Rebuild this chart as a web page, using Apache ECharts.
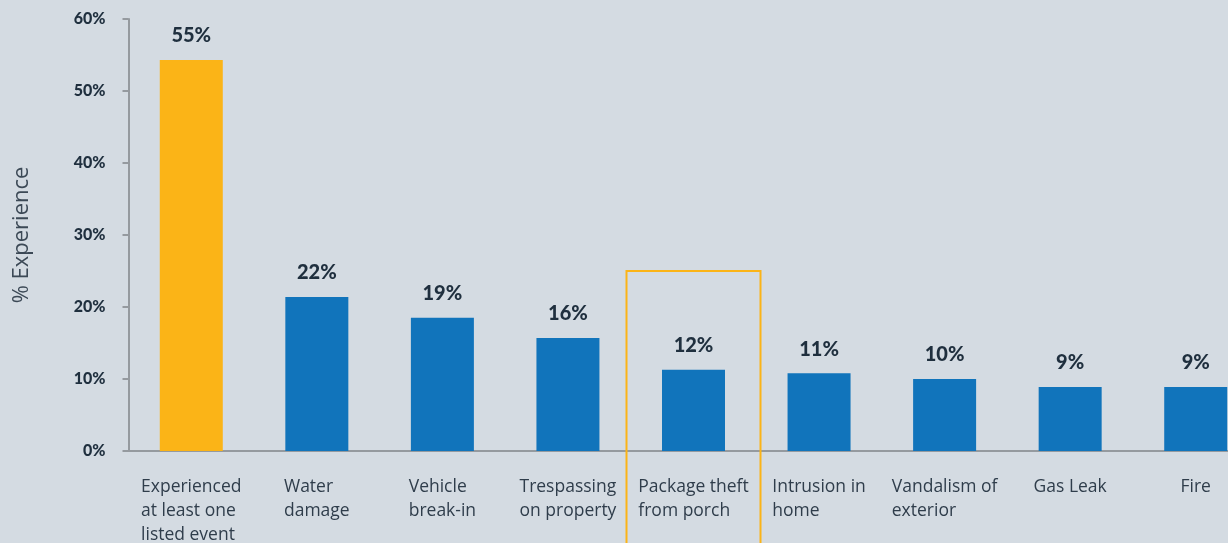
<!DOCTYPE html>
<html>
<head>
<meta charset="utf-8">
<script src="https://cdn.jsdelivr.net/npm/echarts@6/dist/echarts.min.js"></script>
<style>
html,body{margin:0;padding:0;background:#d4dbe2;}
#chart{width:1228px;height:543px;}
</style>
</head>
<body>
<div id="chart"></div>
<script>
const categories = [
  "Experienced\nat least one\nlisted event",
  "Water\ndamage",
  "Vehicle\nbreak-in",
  "Trespassing\non property",
  "Package theft\nfrom porch",
  "Intrusion in\nhome",
  "Vandalism of\nexterior",
  "Gas Leak",
  "Fire"
];
const values = [54.3, 21.4, 18.5, 15.7, 11.3, 10.8, 10.0, 8.9, 8.9];
const valueLabels = ["55%", "22%", "19%", "16%", "12%", "11%", "10%", "9%", "9%"];
const yTicks = [0, 10, 20, 30, 40, 50, 60];
const highlightIndex = 4;
const highlightTop = 25;

const chart = echarts.init(document.getElementById('chart'));
const boldFont = '"Lato", "Noto Sans", sans-serif';
const lightFont = '"Open Sans", "Noto Sans", sans-serif';

chart.setOption({
  backgroundColor: '#d4dbe2',
  animation: false,
  grid: { left: 128.5, top: 19, width: 1130, bottom: 92, containLabel: false, outerBoundsMode: 'none' },
  xAxis: {
    type: 'category',
    data: categories,
    axisLine: { lineStyle: { color: '#959a9f', width: 2 } },
    axisTick: { show: false },
    axisLabel: {
      interval: 0,
      margin: 24,
      formatter: function (v) {
        return v.split('\n').map(function (l) { return '{a|' + l + '}'; }).join('\n');
      },
      rich: {
        a: { align: 'left', fontFamily: lightFont, fontSize: 17.5, color: '#2f3d4b', lineHeight: 24 }
      }
    }
  },
  yAxis: {
    type: 'value',
    min: yTicks[0],
    max: yTicks[yTicks.length - 1],
    interval: 10,
    name: '% Experience',
    nameLocation: 'middle',
    nameGap: 96,
    nameTextStyle: { fontFamily: lightFont, fontSize: 22, color: '#3c4956' },
    axisLine: { show: true, lineStyle: { color: '#959a9f', width: 2 } },
    axisTick: { show: true, length: 6, lineStyle: { color: '#959a9f', width: 2 } },
    splitLine: { show: false },
    axisLabel: {
      margin: 23,
      formatter: '{value}%',
      fontFamily: boldFont,
      fontWeight: 900,
      fontSize: 16,
      color: '#1f2f3e'
    }
  },
  series: [{
    type: 'bar',
    barWidth: 63,
    data: values.map(function (v, i) {
      return { value: v, itemStyle: { color: i === 0 ? '#fbb417' : '#1174bb' } };
    }),
    label: {
      show: true,
      position: 'top',
      distance: 14,
      formatter: function (p) { return valueLabels[p.dataIndex]; },
      fontFamily: boldFont,
      fontWeight: 900,
      fontSize: 20,
      color: '#1f2f3e'
    }
  }]
});

const cx = chart.convertToPixel({ xAxisIndex: 0 }, highlightIndex);
const ty = chart.convertToPixel({ yAxisIndex: 0 }, highlightTop);
chart.setOption({
  graphic: [{
    type: 'rect',
    shape: { x: cx - 67, y: ty, width: 134, height: 600 },
    style: { fill: 'none', stroke: '#fbb417', lineWidth: 2 },
    z: 100
  }]
});
</script>
</body>
</html>
